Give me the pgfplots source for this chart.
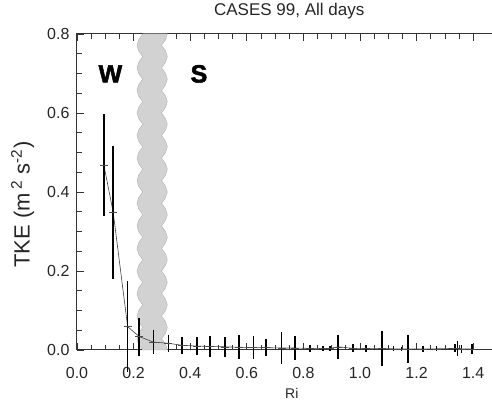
\documentclass[border=0pt]{standalone}
\usepackage{fontspec}
\setmainfont{Liberation Sans}
\usepackage{pgfplots}
\pgfplotsset{compat=1.18}
\usepackage{pgfplotstable}

\pgfplotstableread{
x y err
0.095 0.468 0.130
0.128 0.348 0.168
0.179 0.059 0.115
0.220 0.034 0.048
0.270 0.020 0.030
0.323 0.017 0.021
0.370 0.012 0.022
0.423 0.010 0.022
0.470 0.009 0.026
0.523 0.008 0.025
0.573 0.007 0.030
0.623 0.006 0.030
0.668 0.006 0.022
0.723 0.005 0.040
0.770 0.005 0.030
0.823 0.004 0.008
0.869 0.004 0.006
0.894 0.004 0.006
0.923 0.008 0.030
0.976 0.004 0.010
1.021 0.004 0.008
1.077 0.004 0.045
1.118 0.003 0.006
1.147 0.003 0.005
1.169 0.003 0.035
1.222 0.003 0.008
1.271 0.003 0.006
1.336 0.004 0.010
1.345 0.004 0.020
1.359 0.003 0.010
1.395 0.003 0.012
}\tke

\begin{document}
\begin{tikzpicture}
\begin{axis}[
  scale only axis,
  width=424.5pt, height=316pt,
  xmin=0, xmax=1.5, ymin=0, ymax=0.8,
  clip=false,
  axis line style={line width=1pt, black!80},
  xtick={0,0.2,...,1.41}, ytick={0,0.2,...,0.81},
  minor x tick num=3, minor y tick num=3,
  tick align=inside,
  major tick length=7pt, minor tick length=5pt,
  tick style={line width=0.8pt, black!80},
  /pgf/number format/assume math mode=true,
  /pgf/number format/.cd, fixed, fixed zerofill, precision=1, /pgfplots/.cd,
  ticklabel style={font=\fontsize{16}{16}\selectfont, text=black!85},
  xticklabel style={yshift=-14pt},
  yticklabel style={xshift=-4pt},
  title={CASES 99, All days},
  title style={at={(axis description cs:0.5,1.055)}, anchor=center, font=\fontsize{17}{17}\selectfont, text=black!85},
  xlabel={Ri},
  xlabel style={at={(axis description cs:0.506,-0.136)}, anchor=center, font=\fontsize{14}{14}\selectfont, text=black!85},
  ylabel={TKE (m\,\textsuperscript{2} s\textsuperscript{-2})},
  ylabel style={at={(axis description cs:-0.128,0.46)}, anchor=center, font=\fontsize{22}{22}\selectfont, text=black!85},
]
% shaded transition band
\addplot[fill=gray!35, draw=gray!55, line width=0.5pt] coordinates {
(0.232,0) (0.218,0.0143) (0.212,0.0286) (0.218,0.0429)
(0.232,0.0571) (0.218,0.0714) (0.212,0.0857) (0.218,0.1)
(0.232,0.1143) (0.218,0.1286) (0.212,0.1429) (0.218,0.1571)
(0.232,0.1714) (0.218,0.1857) (0.212,0.2) (0.218,0.2143)
(0.232,0.2286) (0.218,0.2429) (0.212,0.2571) (0.218,0.2714)
(0.232,0.2857) (0.218,0.3) (0.212,0.3143) (0.218,0.3286)
(0.232,0.3429) (0.218,0.3571) (0.212,0.3714) (0.218,0.3857)
(0.232,0.4) (0.218,0.4143) (0.212,0.4286) (0.218,0.4429)
(0.232,0.4571) (0.218,0.4714) (0.212,0.4857) (0.218,0.5)
(0.232,0.5143) (0.218,0.5286) (0.212,0.5429) (0.218,0.5571)
(0.232,0.5714) (0.218,0.5857) (0.212,0.6) (0.218,0.6143)
(0.232,0.6286) (0.218,0.6429) (0.212,0.6571) (0.218,0.6714)
(0.232,0.6857) (0.218,0.7) (0.212,0.7143) (0.218,0.7286)
(0.232,0.7429) (0.218,0.7571) (0.212,0.7714) (0.218,0.7857)
(0.232,0.8)
(0.319,0.8) (0.313,0.7857) (0.299,0.7714) (0.313,0.7571)
(0.319,0.7429) (0.313,0.7286) (0.299,0.7143) (0.313,0.7)
(0.319,0.6857) (0.313,0.6714) (0.299,0.6571) (0.313,0.6429)
(0.319,0.6286) (0.313,0.6143) (0.299,0.6) (0.313,0.5857)
(0.319,0.5714) (0.313,0.5571) (0.299,0.5429) (0.313,0.5286)
(0.319,0.5143) (0.313,0.5) (0.299,0.4857) (0.313,0.4714)
(0.319,0.4571) (0.313,0.4429) (0.299,0.4286) (0.313,0.4143)
(0.319,0.4) (0.313,0.3857) (0.299,0.3714) (0.313,0.3571)
(0.319,0.3429) (0.313,0.3286) (0.299,0.3143) (0.313,0.3)
(0.319,0.2857) (0.313,0.2714) (0.299,0.2571) (0.313,0.2429)
(0.319,0.2286) (0.313,0.2143) (0.299,0.2) (0.313,0.1857)
(0.319,0.1714) (0.313,0.1571) (0.299,0.1429) (0.313,0.1286)
(0.319,0.1143) (0.313,0.1) (0.299,0.0857) (0.313,0.0714)
(0.319,0.0571) (0.313,0.0429) (0.299,0.0286) (0.313,0.0143)
(0.319,0)
} -- cycle;
% TKE with error bars
\addplot[gray!50!black, line width=0.6pt, mark=-, mark size=4pt,
  mark options={gray!60!black, line width=0.6pt},
  error bars/.cd, y dir=both, y explicit,
  error mark=none, error bar style={line width=1.6pt, black}]
  table[x=x, y=y, y error=err] {\tke};
\node[font=\fontsize{25}{25}\bfseries\addfontfeatures{FakeBold=2}\selectfont] at (axis cs:0.118,0.699) {W};
\node[font=\fontsize{25}{25}\bfseries\addfontfeatures{FakeBold=2}\selectfont] at (axis cs:0.431,0.699) {S};
\end{axis}
\pgfresetboundingbox
\path[use as bounding box] ([shift={(-77pt,-56pt)}]current axis.south west) rectangle ([shift={(415pt,34pt)}]current axis.north west);
\end{tikzpicture}
\end{document}
